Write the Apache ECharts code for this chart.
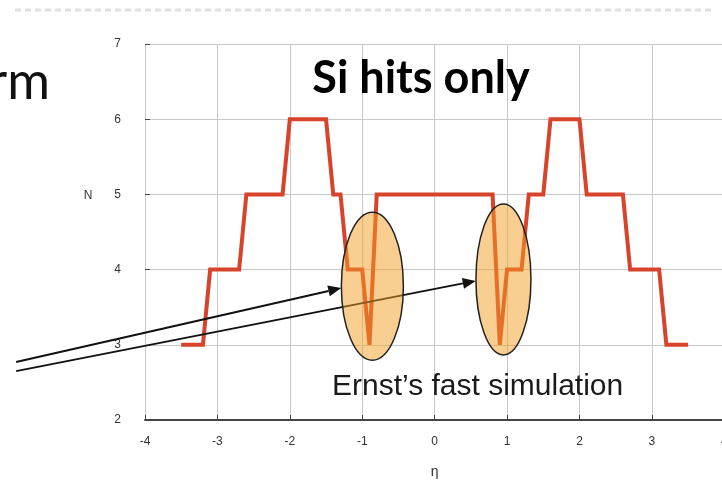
<!DOCTYPE html>
<html>
<head>
<meta charset="utf-8">
<script src="https://cdn.jsdelivr.net/npm/echarts@6/dist/echarts.min.js"></script>
<style>
html,body{margin:0;padding:0;background:#fff;overflow:hidden;}
#chart{width:740px;height:490px;}
</style>
</head>
<body>
<div id="chart"></div>
<script>
// eta positions and hit counts of the stepped curve
const etaValues = [-3.5,-3.2,-3.1,-2.7,-2.6,-2.1,-2.0,-1.5,-1.4,-1.3,-1.2,-1.0,-0.9,-0.8,0.8,0.9,1.0,1.2,1.3,1.5,1.6,2.0,2.1,2.6,2.7,3.1,3.2,3.5];
const hitCounts = [3,3,4,4,5,5,6,6,5,5,4,4,3,5,5,3,4,4,5,5,6,6,5,5,4,4,3,3];
const xTicks = [-4,-3,-2,-1,0,1,2,3,4];
const yTicks = [2,3,4,5,6,7];
// annotations (data coordinates)
const ellipseCenters = [[-0.86,3.78],[0.95,3.87]];
const arrowStarts = [[-5.78,2.77],[-5.78,2.65]];
const arrowEnds = [[-1.29,3.755],[0.567,3.85]];
const yNameLevel = 5;
const titleText = 'Si hits only';
const noteText = 'Ernst\u2019s fast simulation';
const slideText = 'rm';

const chart = echarts.init(document.getElementById('chart'), null, {renderer:'canvas'});
const seriesData = etaValues.map((e,i)=>[e,hitCounts[i]]);
const labelFont = {color:'#333', fontSize:12, fontFamily:'Liberation Sans'};

chart.setOption({
  animation:false,
  backgroundColor:'#fff',
  grid:{left:145, top:44, width:579.3, height:376, containLabel:false},
  xAxis:{
    type:'value', min:xTicks[0], max:xTicks[xTicks.length-1], interval:1,
    name:'\u03b7', nameLocation:'middle', nameGap:45,
    nameTextStyle:{color:'#333', fontSize:14, fontFamily:'Liberation Sans'},
    axisLine:{onZero:false, lineStyle:{color:'#444', width:2}},
    axisTick:{inside:true, length:5, lineStyle:{color:'#444', width:1}},
    axisLabel:Object.assign({margin:16}, labelFont),
    splitLine:{show:true, lineStyle:{color:'#c8c8c8', width:1}}
  },
  yAxis:{
    type:'value', min:yTicks[0], max:yTicks[yTicks.length-1], interval:1,
    axisLine:{show:true, onZero:false, lineStyle:{color:'#c8c8c8', width:1}},
    axisTick:{show:true, inside:true, length:5, lineStyle:{color:'#444', width:1}},
    axisLabel:Object.assign({margin:24}, labelFont),
    splitLine:{show:true, lineStyle:{color:'#c8c8c8', width:1}}
  },
  series:[{
    type:'line', data:seriesData, showSymbol:false, symbol:'none',
    lineStyle:{color:'#d8432b', width:4, join:'miter'}, z:2
  }]
});

function px(p){ return chart.convertToPixel({gridIndex:0}, p); }

const els = [];
// top dashed divider of the slide
els.push({type:'line', shape:{x1:15,y1:10,x2:712,y2:10}, style:{stroke:'#e0e0e0', lineWidth:3, lineDash:[6,4]}, z:1});
// slide text fragment
els.push({type:'text', style:{x:50, y:108, text:slideText, fill:'#111', font:'52px Lato', textAlign:'right', textVerticalAlign:'bottom'}, z:5});
// y axis name
els.push({type:'text', style:{x:88, y:px([0,yNameLevel])[1]+1, text:'N', fill:'#333', font:'12px "Liberation Sans"', textAlign:'center', textVerticalAlign:'middle'}, z:5});
// title
els.push({type:'text', style:{x:421, y:78, text:titleText, fill:'#000', font:'bold 45px Lato', textAlign:'center', textVerticalAlign:'middle'}, z:20});
// note text
els.push({type:'text', style:{x:332, y:387, text:noteText, fill:'#1a1a1a', font:'30px "Liberation Sans"', textAlign:'left', textVerticalAlign:'middle'}, z:20});

// arrows
for (let i=0;i<arrowStarts.length;i++){
  const a = px(arrowStarts[i]), b = px(arrowEnds[i]);
  const dx=b[0]-a[0], dy=b[1]-a[1], L=Math.hypot(dx,dy), ux=dx/L, uy=dy/L;
  const hl=13, hw=5.5;
  const bx=b[0]-ux*hl, by=b[1]-uy*hl;
  els.push({type:'line', shape:{x1:a[0],y1:a[1],x2:bx,y2:by}, style:{stroke:'#111', lineWidth:2}, z:10});
  els.push({type:'polygon', shape:{points:[[b[0],b[1]],[bx-uy*hw,by+ux*hw],[bx+uy*hw,by-ux*hw]]}, style:{fill:'#111'}, z:10});
}
// ellipses
const radii = [[31,74],[27.5,75.5]];
for (let i=0;i<ellipseCenters.length;i++){
  const c = px(ellipseCenters[i]);
  els.push({type:'ellipse', shape:{cx:c[0], cy:c[1], rx:radii[i][0], ry:radii[i][1]}, style:{fill:'rgba(244,157,36,0.5)', stroke:'#222', lineWidth:1.5}, z:15});
}
chart.setOption({graphic:{elements:els}});
</script>
</body>
</html>
